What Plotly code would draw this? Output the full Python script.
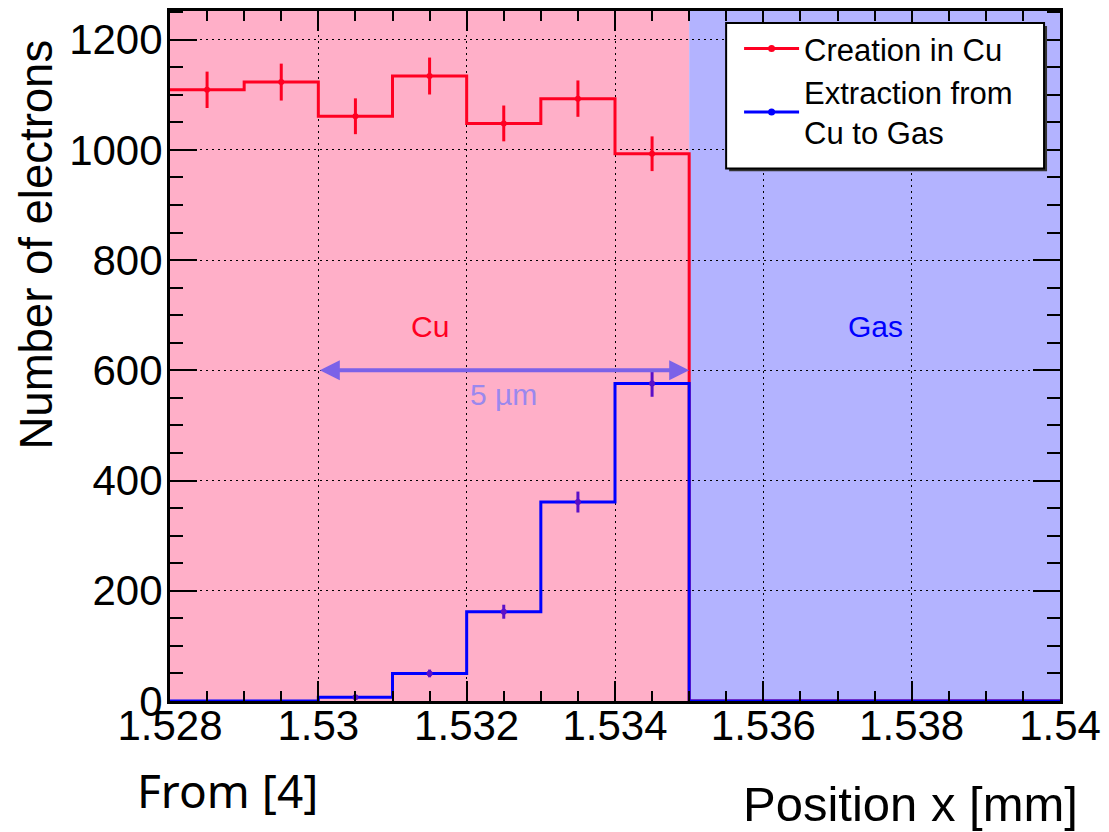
import plotly.graph_objects as go

# ---------------- data ----------------
bin_edges = [1.528, 1.529, 1.530, 1.531, 1.532, 1.533, 1.534, 1.535,
             1.536, 1.537, 1.538, 1.539, 1.540]
creation_counts = [1109, 1123, 1061, 1134, 1048, 1093, 993, 0, 0, 0, 0, 0]
creation_errors = [33, 33.5, 32.5, 33.5, 32.5, 33, 31.5, 0, 0, 0, 0, 0]
extraction_counts = [0, 0, 7, 50, 162, 361, 576, 0, 0, 0, 0, 0]
extraction_errors = [0, 0, 2.6, 7, 12.7, 19, 24, 0, 0, 0, 0, 0]

cu_region = (1.528, 1.535)
gas_region = (1.535, 1.540)
arrow_span = (1.530, 1.535)
arrow_level = 600

x_ticks = [1.528, 1.530, 1.532, 1.534, 1.536, 1.538, 1.540]
x_tick_labels = ["1.528", "1.53", "1.532", "1.534", "1.536", "1.538", "1.54"]
y_ticks = [0, 200, 400, 600, 800, 1000, 1200]

RED = "#FF0022"
BLUE = "#0000FF"
FONT = "Liberation Sans"


def step_xy(edges, counts):
    return list(edges), list(counts) + [counts[-1]]


def centers(edges):
    return [(a + b) / 2 for a, b in zip(edges[:-1], edges[1:])]


fig = go.Figure()

# step histograms
sx, sy = step_xy(bin_edges, creation_counts)
fig.add_trace(go.Scatter(x=sx, y=sy, mode="lines", line=dict(color=RED, width=3, shape="hv"),
                         showlegend=False, hoverinfo="skip"))
sx, sy = step_xy(bin_edges, extraction_counts)
fig.add_trace(go.Scatter(x=sx, y=sy, mode="lines", line=dict(color=BLUE, width=3, shape="hv"),
                         showlegend=False, hoverinfo="skip"))

# error bars
cx = centers(bin_edges)
sel = [i for i, v in enumerate(creation_counts) if v > 0]
fig.add_trace(go.Scatter(x=[cx[i] for i in sel], y=[creation_counts[i] for i in sel], mode="markers",
                         marker=dict(size=0, color=RED),
                         error_y=dict(type="data", array=[creation_errors[i] for i in sel],
                                      color=RED, thickness=3, width=0),
                         showlegend=False, hoverinfo="skip"))
sel = [i for i, v in enumerate(extraction_counts) if v > 0]
fig.add_trace(go.Scatter(x=[cx[i] for i in sel], y=[extraction_counts[i] for i in sel], mode="markers",
                         marker=dict(size=0, color="#5A10C8"),
                         error_y=dict(type="data", array=[extraction_errors[i] for i in sel],
                                      color="#5A10C8", thickness=3, width=0),
                         showlegend=False, hoverinfo="skip"))

# legend entries
fig.add_trace(go.Scatter(x=[None], y=[None], mode="lines+markers", name="Creation in Cu",
                         line=dict(color=RED, width=3), marker=dict(color=RED, size=7)))
fig.add_trace(go.Scatter(x=[None], y=[None], mode="lines+markers", name="Extraction from<br>Cu to Gas",
                         line=dict(color=BLUE, width=3), marker=dict(color=BLUE, size=7)))

# regions
fig.add_shape(type="rect", xref="x", yref="y", x0=cu_region[0], x1=cu_region[1], y0=0, y1=1252,
              fillcolor="#FFAFC8", line=dict(width=0), layer="below")
fig.add_shape(type="rect", xref="x", yref="y", x0=gas_region[0], x1=gas_region[1], y0=0, y1=1252,
              fillcolor="#B3B3FF", line=dict(width=0), layer="below")

# legend box
L, R, T, B = 170, 1063, 8, 700.7
pw, ph = R - L, B - T


def px(xp):
    return (xp - L) / pw


def py(yp):
    return (B - yp) / ph


fig.add_shape(type="rect", xref="paper", yref="paper", x0=px(731), x1=px(1050), y0=py(169), y1=py(23),
              fillcolor="#333333", line=dict(width=0), layer="above")
fig.add_shape(type="rect", xref="paper", yref="paper", x0=px(728), x1=px(1047), y0=py(166), y1=py(20),
              fillcolor="white", line=dict(color="black", width=2), layer="above")

# annotations
fig.add_annotation(x=arrow_span[1], y=arrow_level, ax=arrow_span[0], ay=arrow_level,
                   xref="x", yref="y", axref="x", ayref="y", text="", showarrow=True,
                   arrowside="end+start", arrowhead=2, arrowsize=1, arrowwidth=4,
                   arrowcolor="#7B62E8", standoff=0, startstandoff=0)
fig.add_annotation(x=1.5325, y=557, xref="x", yref="y", text="5 µm", showarrow=False,
                   font=dict(family=FONT, size=30, color="#9A88EE"))
fig.add_annotation(x=1.5315, y=680, xref="x", yref="y", text="Cu", showarrow=False,
                   font=dict(family=FONT, size=30, color=RED))
fig.add_annotation(x=1.53751, y=680, xref="x", yref="y", text="Gas", showarrow=False,
                   font=dict(family=FONT, size=30, color=BLUE))
fig.add_annotation(x=px(36), y=py(242), xref="paper", yref="paper", text="Number of electrons",
                   textangle=-90, showarrow=False, xanchor="center", yanchor="middle",
                   font=dict(family=FONT, size=45.5, color="black"))
fig.add_annotation(x=px(1083), y=py(804), xref="paper", yref="paper", text="Position x [mm]",
                   showarrow=False, xanchor="right", yanchor="middle",
                   font=dict(family=FONT, size=49, color="black"))
fig.add_annotation(x=px(135), y=py(790), xref="paper", yref="paper", text="From [4]",
                   showarrow=False, xanchor="left", yanchor="middle",
                   font=dict(family="Noto Sans", size=46, color="black"))

axis_common = dict(showline=True, linecolor="black", linewidth=3, mirror="allticks",
                   ticks="inside", tickcolor="black", tickwidth=2,
                   showgrid=True, gridcolor="black", gridwidth=1, griddash="2px,4px",
                   zeroline=False, tickfont=dict(family=FONT, size=42, color="black"))

fig.update_xaxes(range=[1.528, 1.540], tickvals=x_ticks, ticktext=x_tick_labels, ticklen=20,
                 ticklabelstandoff=-14,
                 minor=dict(dtick=0.0005, tick0=1.528, ticks="inside", ticklen=10, tickwidth=2,
                            tickcolor="black", showgrid=False),
                 **axis_common)
fig.update_yaxes(range=[0, 1252], tickvals=y_ticks, ticklen=27,
                 ticklabelstandoff=-4,
                 minor=dict(dtick=50, tick0=0, ticks="inside", ticklen=13, tickwidth=2,
                            tickcolor="black", showgrid=False),
                 **axis_common)

fig.update_layout(
    width=1109, height=832,
    margin=dict(l=L, r=1109 - R, t=T, b=832 - 700.7),
    paper_bgcolor="white", plot_bgcolor="white",
    showlegend=True,
    legend=dict(x=px(741), y=py(19), xanchor="left", yanchor="top",
                bgcolor="rgba(0,0,0,0)", borderwidth=0,
                font=dict(family=FONT, size=31, color="black"),
                itemwidth=55, tracegroupgap=0),
)

fig.write_html("out.html")
